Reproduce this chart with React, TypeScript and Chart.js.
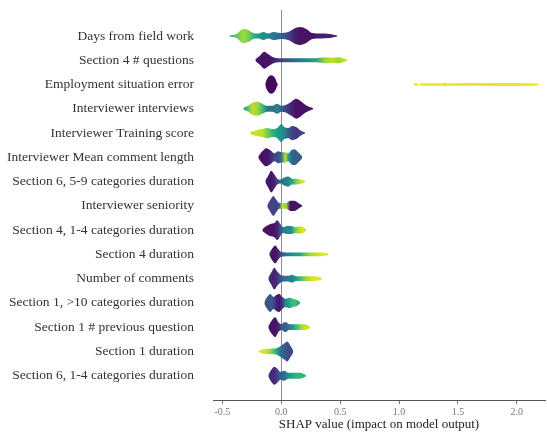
import { useEffect, useRef } from 'react';
import { Chart, registerables } from 'chart.js';

Chart.register(...registerables);

// Feature names, top to bottom
const featureLabels: string[] = [
  'Days from field work',
  'Section 4 # questions',
  'Employment situation error',
  'Interviewer interviews',
  'Interviewer Training score',
  'Interviewer Mean comment length',
  'Section 6, 5-9 categories duration',
  'Interviewer seniority',
  'Section 4, 1-4 categories duration',
  'Section 4 duration',
  'Number of comments',
  'Section 1, >10 categories duration',
  'Section 1 # previous question',
  'Section 1 duration',
  'Section 6, 1-4 categories duration',
];

// SHAP values sampled along each violin (x axis)
const shapX: number[][] = [
  [-0.441, -0.381, -0.322, -0.28, -0.237, -0.195, -0.153, -0.11, -0.068, 0, 0.059, 0.119, 0.161, 0.212, 0.263, 0.331, 0.415, 0.475],
  [-0.22, -0.186, -0.144, -0.11, -0.068, -0.025, 0.034, 0.161, 0.288, 0.373, 0.432, 0.483, 0.525, 0.559],
  [-0.136, -0.119, -0.085, -0.051, -0.034, -0.025, 1.119, 1.144, 1.169, 1.203, 1.373, 1.39, 1.407, 1.856, 2.169, 2.195],
  [-0.322, -0.28, -0.246, -0.203, -0.161, -0.119, -0.076, -0.034, 0, 0.042, 0.085, 0.127, 0.161, 0.203, 0.237, 0.271],
  [-0.263, -0.212, -0.161, -0.119, -0.076, -0.034, 0, 0.025, 0.059, 0.093, 0.127, 0.161, 0.203],
  [-0.195, -0.161, -0.127, -0.093, -0.059, -0.025, 0, 0.034, 0.059, 0.085, 0.11, 0.144, 0.178],
  [-0.136, -0.11, -0.085, -0.059, -0.034, -0.008, 0.025, 0.059, 0.093, 0.127, 0.161, 0.203],
  [-0.119, -0.093, -0.068, -0.042, -0.017, 0.008, 0.042, 0.076, 0.11, 0.144, 0.178],
  [-0.161, -0.127, -0.093, -0.059, -0.034, -0.008, 0.017, 0.051, 0.085, 0.119, 0.153, 0.186, 0.212],
  [-0.102, -0.076, -0.051, -0.025, 0, 0.076, 0.161, 0.246, 0.331, 0.398],
  [-0.11, -0.085, -0.059, -0.034, -0.008, 0.025, 0.059, 0.093, 0.127, 0.161, 0.212, 0.263, 0.314, 0.347],
  [-0.144, -0.119, -0.093, -0.068, -0.042, -0.017, 0.008, 0.034, 0.068, 0.102, 0.136, 0.161],
  [-0.11, -0.085, -0.051, -0.025, 0, 0.034, 0.068, 0.102, 0.136, 0.169, 0.203, 0.246],
  [-0.195, -0.161, -0.127, -0.093, -0.059, -0.025, 0, 0.025, 0.051, 0.076, 0.102],
  [-0.11, -0.085, -0.059, -0.034, -0.008, 0.025, 0.059, 0.093, 0.136, 0.178, 0.212],
];

// Half-width of each violin (density, in row units)
const halfWidth: number[][] = [
  [0.02, 0.08, 0.29, 0.25, 0.12, 0.1, 0.165, 0.1, 0.165, 0.12, 0.165, 0.33, 0.37, 0.29, 0.12, 0.1, 0.08, 0.02],
  [0.04, 0.165, 0.35, 0.25, 0.12, 0.08, 0.08, 0.08, 0.08, 0.12, 0.1, 0.12, 0.08, 0.02],
  [0.04, 0.25, 0.38, 0.25, 0.04, 0, 0, 0.06, 0.01, 0.05, 0.055, 0.08, 0.055, 0.06, 0.04, 0],
  [0.04, 0.12, 0.25, 0.29, 0.21, 0.12, 0.12, 0.21, 0.12, 0.165, 0.29, 0.41, 0.33, 0.165, 0.08, 0.02],
  [0.04, 0.12, 0.165, 0.21, 0.165, 0.21, 0.37, 0.25, 0.21, 0.29, 0.25, 0.12, 0.02],
  [0.04, 0.25, 0.37, 0.29, 0.165, 0.25, 0.21, 0.21, 0.165, 0.29, 0.33, 0.21, 0.04],
  [0.04, 0.25, 0.45, 0.29, 0.12, 0.08, 0.165, 0.21, 0.12, 0.12, 0.1, 0.02],
  [0.04, 0.25, 0.41, 0.25, 0.12, 0.12, 0.12, 0.21, 0.21, 0.12, 0.02],
  [0.04, 0.165, 0.25, 0.29, 0.41, 0.25, 0.12, 0.165, 0.165, 0.12, 0.145, 0.12, 0.02],
  [0.04, 0.25, 0.37, 0.21, 0.1, 0.08, 0.08, 0.08, 0.08, 0.04],
  [0.04, 0.25, 0.45, 0.29, 0.165, 0.12, 0.12, 0.165, 0.1, 0.1, 0.1, 0.1, 0.08, 0.02],
  [0.04, 0.25, 0.37, 0.25, 0.33, 0.37, 0.25, 0.165, 0.21, 0.165, 0.12, 0.02],
  [0.04, 0.25, 0.41, 0.21, 0.12, 0.21, 0.12, 0.12, 0.12, 0.12, 0.12, 0.02],
  [0.02, 0.08, 0.1, 0.12, 0.12, 0.165, 0.25, 0.33, 0.41, 0.25, 0.04],
  [0.04, 0.25, 0.37, 0.29, 0.165, 0.21, 0.12, 0.12, 0.12, 0.1, 0.02],
];

// Feature value (0 = low, 1 = high) at each sample, mapped to viridis
const featureColor: number[][] = [
  [0.6, 0.75, 0.85, 0.8, 0.65, 0.55, 0.5, 0.45, 0.4, 0.3, 0.2, 0.08, 0.05, 0.05, 0.05, 0.08, 0.1, 0.1],
  [0.05, 0.05, 0.05, 0.05, 0.08, 0.15, 0.25, 0.4, 0.55, 0.85, 0.9, 0.85, 0.9, 0.9],
  [0.02, 0.02, 0.02, 0.02, 0.02, 0.02, 0.97, 0.97, 0.97, 0.97, 0.97, 0.97, 0.97, 0.97, 0.97, 0.97],
  [0.5, 0.75, 0.9, 0.85, 0.7, 0.4, 0.35, 0.45, 0.3, 0.2, 0.1, 0.05, 0.05, 0.05, 0.05, 0.05],
  [0.9, 0.92, 0.9, 0.8, 0.65, 0.55, 0.5, 0.45, 0.3, 0.2, 0.15, 0.2, 0.25],
  [0.05, 0.05, 0.05, 0.1, 0.2, 0.25, 0.35, 0.9, 0.6, 0.35, 0.3, 0.3, 0.3],
  [0.1, 0.05, 0.05, 0.1, 0.2, 0.3, 0.4, 0.45, 0.6, 0.8, 0.92, 0.9],
  [0.2, 0.2, 0.2, 0.2, 0.3, 0.9, 0.85, 0.05, 0.05, 0.05, 0.05],
  [0.05, 0.05, 0.05, 0.05, 0.1, 0.25, 0.4, 0.45, 0.5, 0.75, 0.9, 0.95, 0.9],
  [0.1, 0.05, 0.05, 0.1, 0.25, 0.45, 0.6, 0.85, 0.95, 0.95],
  [0.15, 0.1, 0.1, 0.15, 0.25, 0.35, 0.4, 0.45, 0.55, 0.7, 0.85, 0.95, 0.95, 0.95],
  [0.25, 0.25, 0.28, 0.25, 0.1, 0.05, 0.15, 0.45, 0.6, 0.7, 0.65, 0.6],
  [0.05, 0.05, 0.05, 0.1, 0.25, 0.3, 0.4, 0.55, 0.7, 0.85, 0.92, 0.95],
  [0.95, 0.95, 0.92, 0.85, 0.7, 0.5, 0.35, 0.3, 0.25, 0.2, 0.2],
  [0.15, 0.12, 0.12, 0.2, 0.3, 0.35, 0.5, 0.6, 0.65, 0.65, 0.65],
];

const xTicks: number[] = [-0.5, 0, 0.5, 1.0, 1.5, 2.0];

const VIRIDIS = ['#440154', '#482475', '#414487', '#355f8d', '#2a788e', '#21918c', '#22a884', '#44bf70', '#7ad151', '#bddf26', '#fde725'];

function hexToRgb(h: string): number[] {
  return [parseInt(h.slice(1, 3), 16), parseInt(h.slice(3, 5), 16), parseInt(h.slice(5, 7), 16)];
}

function viridis(t: number): string {
  const v = Math.max(0, Math.min(1, t)) * 10;
  const i = Math.min(9, Math.floor(v));
  const f = v - i;
  const a = hexToRgb(VIRIDIS[i]);
  const b = hexToRgb(VIRIDIS[i + 1]);
  const c = a.map((av, k) => Math.round(av + (b[k] - av) * f));
  return `rgb(${c[0]},${c[1]},${c[2]})`;
}

const FONT = 'Liberation Serif';

export default function App() {
  const ref = useRef<HTMLCanvasElement | null>(null);

  useEffect(() => {
    if (!ref.current) return;

    const makeFill = (row: number) => (ctx: any) => {
      const chart = ctx.chart;
      const sx = chart.scales && chart.scales.x;
      if (!chart.chartArea || !sx) return viridis(0.5);
      const xs = shapX[row];
      const p0 = sx.getPixelForValue(xs[0]);
      const p1 = sx.getPixelForValue(xs[xs.length - 1]);
      const g = chart.ctx.createLinearGradient(p0, 0, p1, 0);
      xs.forEach((x, j) => {
        const off = Math.max(0, Math.min(1, (sx.getPixelForValue(x) - p0) / (p1 - p0)));
        g.addColorStop(off, viridis(featureColor[row][j]));
      });
      return g;
    };

    const datasets: any[] = [];
    featureLabels.forEach((_, row) => {
      const xs = shapX[row];
      const ws = halfWidth[row];
      datasets.push({
        label: featureLabels[row] + ' upper',
        data: xs.map((x, j) => ({ x, y: row - ws[j] })),
        fill: '+1',
        backgroundColor: makeFill(row),
        borderColor: 'rgba(0,0,0,0)',
        borderWidth: 0,
        pointRadius: 0,
        cubicInterpolationMode: 'monotone',
      });
      datasets.push({
        label: featureLabels[row] + ' lower',
        data: xs.map((x, j) => ({ x, y: row + ws[j] })),
        fill: false,
        backgroundColor: 'rgba(0,0,0,0)',
        borderColor: 'rgba(0,0,0,0)',
        borderWidth: 0,
        pointRadius: 0,
        cubicInterpolationMode: 'monotone',
      });
    });

    const chart = new Chart(ref.current, {
      type: 'line',
      data: { datasets },
      options: {
        animation: false,
        responsive: false,
        devicePixelRatio: 1,
        layout: { padding: { top: 10, right: 2, left: 0, bottom: 0 } },
        plugins: { legend: { display: false }, tooltip: { enabled: false } },
        scales: {
          x: {
            type: 'linear',
            min: -0.58,
            max: 2.24,
            z: 1,
            border: { display: true, color: '#555', width: 1 },
            grid: {
              color: (c: any) => (c.tick && c.tick.value === 0 ? '#8c8c8c' : 'rgba(0,0,0,0)'),
              drawTicks: true,
              tickLength: 4,
              tickColor: '#777',
            },
            afterBuildTicks: (s: any) => {
              s.ticks = xTicks.map((v) => ({ value: v }));
            },
            ticks: {
              font: { family: FONT, size: 10 },
              color: '#777',
              padding: 2,
              maxRotation: 0,
              callback: (v: any) => Number(v).toFixed(1),
            },
            title: {
              display: true,
              text: 'SHAP value (impact on model output)',
              font: { family: FONT, size: 13 },
              color: '#222',
              padding: 0,
            },
            afterFit: (s: any) => {
              s.height = 32;
              s.paddingLeft = 0;
              s.paddingRight = 0;
            },
          },
          y: {
            type: 'linear',
            min: -1.07,
            max: 15,
            reverse: true,
            grid: { display: false, drawTicks: false },
            border: { display: false },
            afterBuildTicks: (s: any) => {
              s.ticks = featureLabels.map((_, i) => ({ value: i }));
            },
            afterFit: (s: any) => {
              s.width = 213;
              s.paddingTop = 0;
              s.paddingBottom = 0;
            },
            ticks: {
              autoSkip: false,
              padding: 19,
              font: { family: FONT, size: 13.5 },
              color: '#333',
              callback: (v: any) => featureLabels[v] ?? '',
            },
          },
        },
      } as any,
    });

    return () => chart.destroy();
  }, []);

  return (
    <div style={{ position: 'absolute', left: 0, top: 0, width: 547, height: 432, background: '#fff' }}>
      <canvas ref={ref} width={547} height={432} />
    </div>
  );
}
